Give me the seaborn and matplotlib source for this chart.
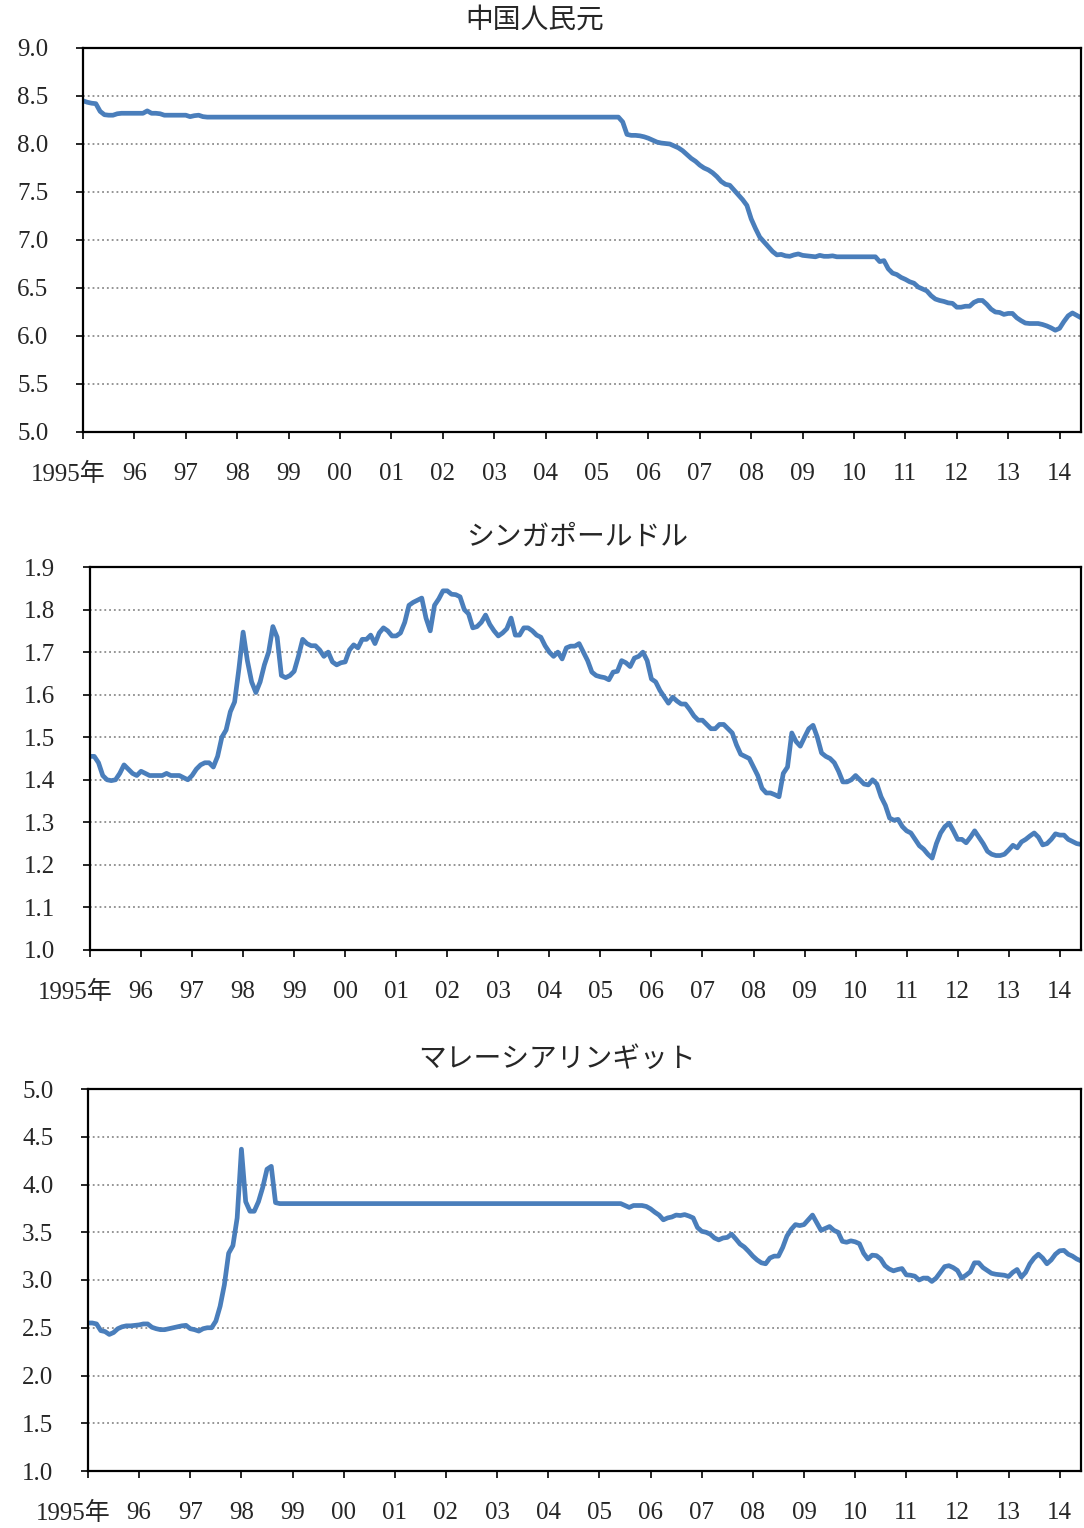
import numpy as np
import pandas as pd
import matplotlib
matplotlib.use("Agg")
import matplotlib.pyplot as plt
import matplotlib.transforms as mtransforms
from matplotlib.ticker import MultipleLocator, FormatStrFormatter
import seaborn as sns

# monthly averages, Jan 1995 - Jun 2014 (per USD)
cny = [
    8.45, 8.435, 8.425, 8.42, 8.34, 8.305, 8.30, 8.30, 8.315, 8.32, 8.32, 8.32,
    8.32, 8.32, 8.32, 8.345, 8.32, 8.32, 8.315, 8.30, 8.30, 8.30, 8.30, 8.30,
    8.30, 8.285, 8.295, 8.30, 8.285, 8.28, 8.28, 8.28, 8.28, 8.28, 8.28, 8.28,
    8.28, 8.28, 8.28, 8.28, 8.28, 8.28, 8.28, 8.28, 8.28, 8.28, 8.28, 8.28,
    8.28, 8.28, 8.28, 8.28, 8.28, 8.28, 8.28, 8.28, 8.28, 8.28, 8.28, 8.28,
    8.28, 8.28, 8.28, 8.28, 8.28, 8.28, 8.28, 8.28, 8.28, 8.28, 8.28, 8.28,
    8.28, 8.28, 8.28, 8.28, 8.28, 8.28, 8.28, 8.28, 8.28, 8.28, 8.28, 8.28,
    8.28, 8.28, 8.28, 8.28, 8.28, 8.28, 8.28, 8.28, 8.28, 8.28, 8.28, 8.28,
    8.28, 8.28, 8.28, 8.28, 8.28, 8.28, 8.28, 8.28, 8.28, 8.28, 8.28, 8.28,
    8.28, 8.28, 8.28, 8.28, 8.28, 8.28, 8.28, 8.28, 8.28, 8.28, 8.28, 8.28,
    8.28, 8.28, 8.28, 8.28, 8.28, 8.28, 8.23, 8.10, 8.09, 8.09, 8.085, 8.075,
    8.06, 8.04, 8.02, 8.01, 8.005, 8.00, 7.98, 7.96, 7.93, 7.89, 7.85, 7.82,
    7.78, 7.75, 7.73, 7.70, 7.66, 7.61, 7.58, 7.57, 7.52, 7.47, 7.42, 7.36,
    7.22, 7.12, 7.03, 6.98, 6.93, 6.88, 6.845, 6.85, 6.835, 6.83, 6.845, 6.855,
    6.84, 6.835, 6.83, 6.825, 6.84, 6.83, 6.83, 6.835, 6.825, 6.825, 6.825, 6.825,
    6.825, 6.825, 6.825, 6.825, 6.825, 6.825, 6.775, 6.785, 6.70, 6.655, 6.64, 6.61,
    6.59, 6.565, 6.55, 6.51, 6.49, 6.47, 6.42, 6.385, 6.37, 6.36, 6.345, 6.34,
    6.30, 6.30, 6.31, 6.31, 6.35, 6.37, 6.37, 6.33, 6.28, 6.25, 6.245, 6.225,
    6.235, 6.235, 6.19, 6.16, 6.135, 6.13, 6.13, 6.13, 6.12, 6.105, 6.085, 6.06,
    6.08, 6.15, 6.21, 6.24, 6.215, 6.19,
]

sgd = [
    1.455, 1.455, 1.44, 1.41, 1.40, 1.398, 1.40, 1.415, 1.435, 1.425, 1.415, 1.41,
    1.42, 1.415, 1.41, 1.41, 1.41, 1.41, 1.415, 1.41, 1.41, 1.41, 1.405, 1.40,
    1.41, 1.425, 1.435, 1.44, 1.44, 1.43, 1.455, 1.50, 1.517, 1.56, 1.583, 1.66,
    1.747, 1.68, 1.63, 1.605, 1.63, 1.67, 1.70, 1.76, 1.735, 1.645, 1.64, 1.645,
    1.655, 1.69, 1.73, 1.72, 1.715, 1.715, 1.705, 1.69, 1.70, 1.677, 1.67, 1.675,
    1.677, 1.705, 1.717, 1.71, 1.73, 1.73, 1.74, 1.72, 1.745, 1.757, 1.75, 1.738,
    1.738, 1.745, 1.77, 1.81, 1.817, 1.822, 1.827, 1.78, 1.75, 1.81, 1.825, 1.844,
    1.844, 1.836, 1.835, 1.83, 1.80, 1.79, 1.757, 1.76, 1.77, 1.787, 1.765, 1.75,
    1.738, 1.745, 1.755, 1.78, 1.74, 1.74, 1.757, 1.757, 1.75, 1.74, 1.735, 1.715,
    1.70, 1.69, 1.70, 1.684, 1.71, 1.714, 1.714, 1.72, 1.70, 1.68, 1.653, 1.645,
    1.642, 1.64, 1.635, 1.653, 1.655, 1.68, 1.675, 1.666, 1.686, 1.69, 1.70, 1.68,
    1.637, 1.63, 1.61, 1.595, 1.58, 1.594, 1.585, 1.578, 1.578, 1.565, 1.55, 1.54,
    1.54, 1.53, 1.52, 1.52, 1.53, 1.53, 1.52, 1.51, 1.482, 1.46, 1.455, 1.45,
    1.43, 1.41, 1.38, 1.369, 1.369, 1.365, 1.36, 1.415, 1.43, 1.51, 1.49, 1.479,
    1.50, 1.52, 1.528, 1.50, 1.463, 1.455, 1.45, 1.44, 1.42, 1.395, 1.395, 1.40,
    1.41, 1.40, 1.39, 1.388, 1.40, 1.39, 1.36, 1.34, 1.31, 1.305, 1.307, 1.29,
    1.28, 1.275, 1.26, 1.245, 1.237, 1.225, 1.216, 1.25, 1.275, 1.29, 1.298, 1.28,
    1.26, 1.26, 1.252, 1.265, 1.28, 1.265, 1.25, 1.232, 1.225, 1.222, 1.222, 1.225,
    1.235, 1.246, 1.24, 1.254, 1.26, 1.268, 1.275, 1.265, 1.247, 1.25, 1.26, 1.273,
    1.27, 1.27, 1.26, 1.255, 1.25, 1.248,
]

myr = [
    2.55, 2.55, 2.54, 2.47, 2.46, 2.43, 2.45, 2.49, 2.51, 2.52, 2.52, 2.525,
    2.53, 2.54, 2.54, 2.505, 2.49, 2.48, 2.48, 2.49, 2.50, 2.51, 2.52, 2.525,
    2.49, 2.48, 2.465, 2.49, 2.50, 2.50, 2.57, 2.725, 2.95, 3.28, 3.36, 3.65,
    4.37, 3.82, 3.72, 3.72, 3.82, 3.97, 4.16, 4.19, 3.81, 3.80, 3.80, 3.80,
    3.80, 3.80, 3.80, 3.80, 3.80, 3.80, 3.80, 3.80, 3.80, 3.80, 3.80, 3.80,
    3.80, 3.80, 3.80, 3.80, 3.80, 3.80, 3.80, 3.80, 3.80, 3.80, 3.80, 3.80,
    3.80, 3.80, 3.80, 3.80, 3.80, 3.80, 3.80, 3.80, 3.80, 3.80, 3.80, 3.80,
    3.80, 3.80, 3.80, 3.80, 3.80, 3.80, 3.80, 3.80, 3.80, 3.80, 3.80, 3.80,
    3.80, 3.80, 3.80, 3.80, 3.80, 3.80, 3.80, 3.80, 3.80, 3.80, 3.80, 3.80,
    3.80, 3.80, 3.80, 3.80, 3.80, 3.80, 3.80, 3.80, 3.80, 3.80, 3.80, 3.80,
    3.80, 3.80, 3.80, 3.80, 3.80, 3.80, 3.78, 3.76, 3.78, 3.78, 3.78, 3.77,
    3.745, 3.71, 3.68, 3.63, 3.65, 3.66, 3.68, 3.675, 3.685, 3.67, 3.65, 3.55,
    3.51, 3.50, 3.48, 3.44, 3.42, 3.44, 3.446, 3.48, 3.43, 3.376, 3.345, 3.30,
    3.25, 3.21, 3.18, 3.17, 3.23, 3.25, 3.25, 3.34, 3.46, 3.53, 3.58, 3.57,
    3.58, 3.63, 3.68, 3.60, 3.52, 3.54, 3.56, 3.52, 3.50, 3.405, 3.395, 3.41,
    3.40, 3.38, 3.28, 3.22, 3.26, 3.255, 3.22, 3.15, 3.115, 3.096, 3.11, 3.12,
    3.054, 3.05, 3.04, 3.00, 3.02, 3.02, 2.985, 3.02, 3.08, 3.14, 3.15, 3.13,
    3.10, 3.02, 3.05, 3.085, 3.18, 3.18, 3.13, 3.10, 3.07, 3.06, 3.055, 3.05,
    3.036, 3.08, 3.11, 3.03, 3.08, 3.17, 3.23, 3.27, 3.23, 3.17, 3.21, 3.27,
    3.306, 3.31, 3.27, 3.25, 3.22, 3.20,
]

titles = ['中国人民元', 'シンガポールドル', 'マレーシアリンギット']
year_ticks = list(range(1995, 2015))
year_labels = ['1995年'] + [f'{y % 100:02d}' for y in year_ticks[1:]]

sns.set_style("white")
plt.rcParams['font.family'] = ['Liberation Serif', 'Noto Sans CJK JP']

months = pd.date_range('1995-01-01', periods=len(cny), freq='MS')
xdec = months.year + (months.month - 1) / 12

panels = [
    # values, ylim, step, axes rect, title position (px)
    (cny, (5.0, 9.0), 0.5, [83, 48, 1081, 432], (535, 20)),
    (sgd, (1.0, 1.9), 0.1, [90, 567, 1081, 950], (577, 537)),
    (myr, (1.0, 5.0), 0.5, [88, 1089, 1081, 1471], (557, 1059)),
]

W, H = 1084, 1528
fig = plt.figure(figsize=(W / 100, H / 100), dpi=100)
blue = '#4A7EBB'

for (vals, ylim, step, (l, t, r, b), (tx, ty)), title in zip(panels, titles):
    ax = fig.add_axes([l / W, 1 - b / H, (r - l) / W, (b - t) / H])
    df = pd.DataFrame({'x': xdec, 'rate': vals})
    sns.lineplot(data=df, x='x', y='rate', ax=ax, color=blue, linewidth=3.4)

    ax.set_xlim(xdec[0], xdec[-1])
    ax.set_ylim(*ylim)
    ax.yaxis.set_major_locator(MultipleLocator(step))
    ax.yaxis.set_major_formatter(FormatStrFormatter('%.1f'))
    ax.set_xticks(year_ticks)
    ax.set_xticklabels(year_labels)
    ax.set_xlabel('')
    ax.set_ylabel('')

    ax.yaxis.grid(True, linestyle=':', color='#8c8c8c', linewidth=1.3)
    ax.xaxis.grid(False)
    for sp in ax.spines.values():
        sp.set_visible(True)
        sp.set_color('black')
        sp.set_linewidth(1.6)

    ax.tick_params(axis='y', direction='out', length=5, width=1.4,
                   pad=20, labelsize=18, left=True)
    ax.tick_params(axis='x', direction='out', length=5, width=1.4,
                   pad=17, labelsize=18, bottom=True)

    first = ax.get_xticklabels()[0]
    first.set_transform(first.get_transform() +
                        mtransforms.ScaledTranslation(-0.15, 0, fig.dpi_scale_trans))

    fig.text(tx / W, 1 - ty / H, title, ha='center', va='center',
             fontsize=20, family=['Noto Sans CJK JP', 'DejaVu Sans'])

fig.savefig('out.png', dpi=100)
